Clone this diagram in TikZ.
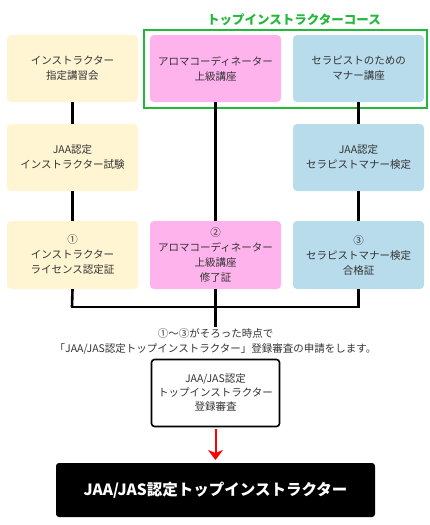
\documentclass[tikz,border=0pt]{standalone}
\usepackage{fontspec}
\setmainfont{Noto Sans CJK JP}
\usetikzlibrary{arrows.meta}
\definecolor{cyel}{HTML}{FFF5D3}
\definecolor{cpink}{HTML}{FFB3EC}
\definecolor{cblue}{HTML}{B8DCEB}
\definecolor{cgreen}{HTML}{22B83A}
\definecolor{ctext}{HTML}{333333}
\tikzset{
  card/.style={minimum width=131pt, minimum height=67pt, rounded corners=4pt, inner sep=0pt,
    align=center, text=ctext, font=\fontsize{10.5}{15}\selectfont},
  yel/.style={card, fill=cyel},
  pink/.style={card, fill=cpink},
  blue/.style={card, fill=cblue},
  conn/.style={line width=2.6pt, black},
}
\begin{document}
\begin{tikzpicture}[x=1pt,y=-1pt]
\useasboundingbox (0,0) rectangle (430,525);
\coordinate (hl) at (72,307);
\coordinate (hr) at (358.5,307);
\coordinate (down) at (215.5,327);
% green frame
\draw[cgreen, line width=1.3pt] (144,30) rectangle (427,108);
\node[text=cgreen, font=\fontsize{12.5}{14}\bfseries] (title) at (294,20) {トップインストラクターコース};
% row 1
\node[yel]  (a1) at (72.5,68.5) {インストラクター\\指定講習会};
\node[pink] (b1) at (215.5,68.5) {アロマコーディネーター\\上級講座};
\node[blue] (c1) at (358.5,68.5) {セラピストのための\\マナー講座};
% row 2
\node[yel]  (a2) at (72.5,157.5) {JAA認定\\インストラクター試験};
\node[blue] (c2) at (358.5,157.5) {JAA認定\\セラピストマナー検定};
% row 3
\node[yel, minimum height=68pt]  (a3) at (72.5,255) {①\\インストラクター\\ライセンス認定証};
\node[pink, minimum height=68pt] (b3) at (215.5,255) {②\\アロマコーディネーター\\上級講座\\修了証};
\node[blue, minimum height=68pt] (c3) at (358.5,255) {③\\セラピストマナー検定\\合格証};
% lines
\draw[conn] (a1.south) -- (a2.north);
\draw[conn] (a2.south) -- (a3.north);
\draw[conn] (a3.south) -- (hl);
\draw[conn] (c1.south) -- (c2.north);
\draw[conn] (c2.south) -- (c3.north);
\draw[conn] (c3.south) -- (hr);
\draw[conn] (b1.south) -- (b3.north);
\draw[conn] (b3.south) -- (down);
\draw[conn, line cap=rect] (hl) -- (hr);
% note text
\node[align=center, text=ctext, font=\fontsize{10.5}{15}\selectfont] (note) at (215.5,341)
  {①〜③がそろった時点で\\「JAA/JAS認定トップインストラクター」登録審査の申請をします。};
% review box
\node[draw=black, line width=1.6pt, fill=white, rounded corners=3pt, minimum width=128pt,
  minimum height=67pt, align=center, text=ctext, font=\fontsize{10.5}{14}\selectfont] (rev) at (215.5,393)
  {JAA/JAS認定\\トップインストラクター\\登録審査};
% final
\node[fill=black, rounded corners=3pt, minimum width=319pt, minimum height=54pt,
  text=white, font=\fontsize{15.5}{18}\bfseries] (fin) at (215.5,490) {JAA/JAS認定トップインストラクター};
\coordinate (arrend) at (215.5,460);
\draw[red, line width=2pt, -{Stealth[width=15pt,length=10pt,inset=3pt]}] ([yshift=-1.5pt]rev.south) -- (arrend);
\end{tikzpicture}
\end{document}
